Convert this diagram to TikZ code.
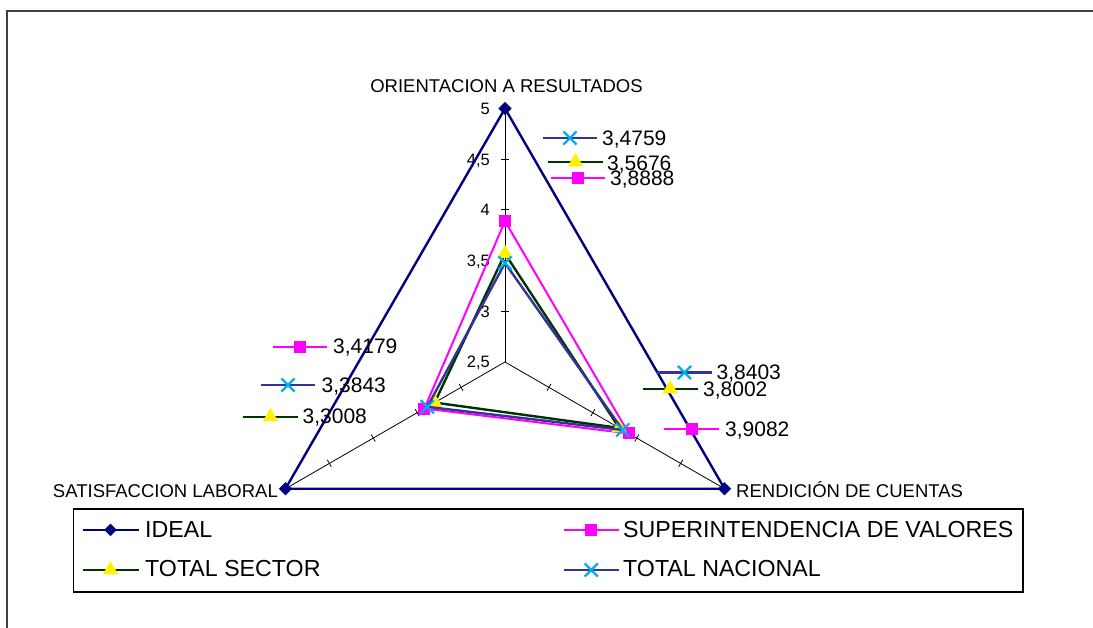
\documentclass[tikz,border=0pt]{standalone}
\usepackage{fontspec}
\setmainfont{Liberation Sans}
\usetikzlibrary{positioning,shapes.geometric,shapes.misc}

\definecolor{idealblue}{HTML}{000080}
\definecolor{svmagenta}{HTML}{FF00FF}
\definecolor{sectorgreen}{HTML}{003300}
\definecolor{nacionalblue}{HTML}{333399}

\tikzset{
  framedraw/.style={draw=black!75, line width=2pt},
  axisline/.style={black, line width=0.8pt},
  idealline/.style={idealblue, line width=2.4pt, line join=round},
  svline/.style={svmagenta, line width=2pt, line join=round},
  tsline/.style={sectorgreen, line width=2.4pt, line join=round},
  tnline/.style={nacionalblue, line width=2.4pt, line join=round},
  idealmark/.style={diamond, fill=idealblue, inner sep=0pt, minimum size=13.5pt},
  svmark/.style={rectangle, fill=svmagenta, inner sep=0pt, minimum size=12pt},
  tsmark/.style={regular polygon, regular polygon sides=3, fill=yellow, inner sep=0pt, minimum size=18pt},
  tnmark/.style={cross out, draw=cyan, line width=2.2pt, inner sep=0pt, minimum size=11pt},
  catlbl/.style={inner sep=0pt, text height=13.3pt, text depth=0pt, font=\fontsize{18.5}{20}\selectfont},
  vallbl/.style={inner sep=0pt, text height=15pt, text depth=0pt, anchor=west, font=\fontsize{21}{23}\selectfont},
  axlbl/.style={inner sep=0pt, text height=11.8pt, text depth=0pt, anchor=east, font=\fontsize{16.5}{18}\selectfont},
  leglbl/.style={inner sep=0pt, text height=16.5pt, text depth=0pt, anchor=west, font=\fontsize{23.2}{25}\selectfont}
}

\begin{document}
\begin{tikzpicture}[x=1pt,y=1pt]
  \useasboundingbox (0,0) rectangle (1093,628);
  \draw[framedraw] (7,0) -- (7,617) -- (1093,617);

  \begin{scope}[shift={(505,266)}]
    % axes
    \coordinate (c) at (0,0);
    \coordinate (ax-o) at (90:253.5);
    \coordinate (ax-r) at (-30:253.5);
    \coordinate (ax-s) at (210:253.5);
    \draw[axisline] (c) -- (ax-o);
    \draw[axisline] (c) -- (ax-r);
    \draw[axisline] (c) -- (ax-s);
    \foreach \a in {90,-30,210}
      \foreach \r in {50.7,101.4,152.1,202.8}
        \draw[axisline, rotate=\a] (\r,-4) -- (\r,4);
    \foreach \v/\t [count=\i] in {2.5/{2,5},3/3,3.5/{3,5},4/4,4.5/{4,5},5/5}
      \node[axlbl] (tick-\i) at (-15,{(\v-2.5)*101.4}) {\t};

    % IDEAL
    \draw[idealline] (ax-o) -- (ax-r) -- (ax-s) -- cycle;
    \node[idealmark] at (ax-o) {};
    \node[idealmark] at (ax-r) {};
    \node[idealmark] at (ax-s) {};

    % SUPERINTENDENCIA DE VALORES
    \coordinate (sv-o) at (90:{(3.8888-2.5)*101.4});
    \coordinate (sv-r) at (-30:{(3.9082-2.5)*101.4});
    \coordinate (sv-s) at (210:{(3.4179-2.5)*101.4});
    \draw[svline] (sv-o) -- (sv-r) -- (sv-s) -- cycle;
    \node[svmark] at (sv-o) {};
    \node[svmark] at (sv-r) {};
    \node[svmark] at (sv-s) {};

    % TOTAL SECTOR
    \coordinate (ts-o) at (90:{(3.5676-2.5)*101.4});
    \coordinate (ts-r) at (-30:{(3.8002-2.5)*101.4});
    \coordinate (ts-s) at (210:{(3.3008-2.5)*101.4});
    \draw[tsline] (ts-o) -- (ts-r) -- (ts-s) -- cycle;
    \node[tsmark] at (ts-o) {};
    \node[tsmark] at (ts-r) {};
    \node[tsmark] at (ts-s) {};

    % TOTAL NACIONAL
    \coordinate (tn-o) at (90:{(3.4759-2.5)*101.4});
    \coordinate (tn-r) at (-30:{(3.8403-2.5)*101.4});
    \coordinate (tn-s) at (210:{(3.3843-2.5)*101.4});
    \draw[tnline] (tn-o) -- (tn-r) -- (tn-s) -- cycle;
    \node[tnmark] at (tn-o) {};
    \node[tnmark] at (tn-r) {};
    \node[tnmark] at (tn-s) {};
  \end{scope}

  % category names
  \node[catlbl] (cat-o) at (506.5,542) {ORIENTACION A RESULTADOS};
  \node[catlbl, anchor=east] (cat-s) at (278,137) {SATISFACCION LABORAL};
  \node[catlbl, anchor=west] (cat-r) at (736,137) {RENDICIÓN DE CUENTAS};

  % data labels, top
  \draw[tnline] (543,490) -- (597,490) node[midway, tnmark] {};
  \node[vallbl] (val-tn-o) at (602,490) {3,4759};
  \draw[tsline] (548,466) -- (603,466) node[midway, tsmark] {};
  \node[vallbl] (val-ts-o) at (607,465) {3,5676};
  \draw[svline] (551,450) -- (605,450) node[midway, svmark] {};
  \node[vallbl] (val-sv-o) at (610,450) {3,8888};

  % data labels, right
  \draw[tnline] (657,255.5) -- (712,255.5) node[midway, tnmark] {};
  \node[vallbl] (val-tn-r) at (716.5,256) {3,8403};
  \draw[tsline] (642.5,239) -- (697.5,239) node[midway, tsmark] {};
  \node[vallbl] (val-ts-r) at (703,239) {3,8002};
  \draw[svline] (664,199) -- (719,199) node[midway, svmark] {};
  \node[vallbl] (val-sv-r) at (725,199) {3,9082};

  % data labels, left
  \draw[svline] (273,281) -- (327,281) node[midway, svmark] {};
  \node[vallbl] (val-sv-s) at (333,282) {3,4179};
  \draw[tnline] (261,243) -- (315,243) node[midway, tnmark] {};
  \node[vallbl] (val-tn-s) at (321.5,243) {3,3843};
  \draw[tsline] (243,211) -- (298,211) node[midway, tsmark] {};
  \node[vallbl] (val-ts-s) at (302.5,212) {3,3008};

  % legend
  \draw[black, line width=1.5pt] (73.5,36) rectangle (1023,119);
  \draw[idealline] (82.5,98) -- (138.5,98) node[midway, idealmark] {};
  \node[leglbl] (leg-ideal) at (145,99) {IDEAL};
  \draw[tsline] (82.5,58) -- (138.5,58) node[midway, tsmark] {};
  \node[leglbl] (leg-ts) at (145,60) {TOTAL SECTOR};
  \draw[svline] (563.5,98) -- (619,98) node[midway, svmark] {};
  \node[leglbl] (leg-sv) at (623,99) {SUPERINTENDENCIA DE VALORES};
  \draw[tnline] (563.5,58) -- (619,58) node[midway, tnmark] {};
  \node[leglbl] (leg-tn) at (623,60) {TOTAL NACIONAL};
\end{tikzpicture}
\end{document}
